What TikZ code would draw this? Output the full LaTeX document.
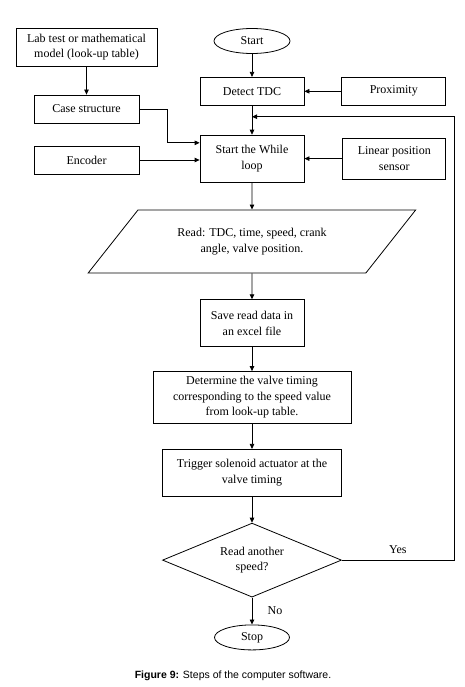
\documentclass[tikz,border=0pt]{standalone}
\usepackage{fontspec}
\setmainfont{Liberation Serif}
\newfontfamily\capfont{Liberation Sans}
\usetikzlibrary{arrows.meta, positioning, calc, shapes.geometric}

\begin{document}
\begin{tikzpicture}[
  x=1pt, y=-1pt,
  node distance=25pt,
  box/.style={draw, minimum width=104pt, minimum height=28pt, inner sep=2pt, align=center, font=\fontsize{12}{15.5}\selectfont},
  term/.style={draw, ellipse, minimum width=76pt, minimum height=25pt, inner sep=1pt, font=\fontsize{12}{15.5}\selectfont},
  io/.style={draw, trapezium, trapezium left angle=39, trapezium right angle=141, trapezium stretches=true, minimum width=328pt, minimum height=63pt, inner sep=0pt, align=center, font=\fontsize{12}{15.5}\selectfont},
  cond/.style={draw, diamond, aspect=2.4, minimum width=179pt, minimum height=74pt, inner sep=0pt, align=center, font=\fontsize{12}{15.5}\selectfont},
  arr/.style={-{Triangle[length=5pt, width=4.5pt]}, line width=0.8pt},
  every path/.style={line width=0.8pt}
]
\useasboundingbox (0,0) rectangle (464,687);
% main column
\node[term] (start) at (252,41) {Start};
\node[box, below=23pt of start] (tdc) {Detect TDC};
\node[box, minimum height=47pt, below=29pt of tdc] (loop) {Start the While\\loop};
\node[io, below=27pt of loop] (read) {Read: TDC, time, speed, crank\\angle, valve position.};
\node[box, minimum height=47pt, below=26pt of read] (save) {Save read data in\\an excel file};
\node[box, minimum width=198pt, minimum height=52pt, below=24pt of save] (timing) {Determine the valve timing\\corresponding to the speed value\\from look-up table.};
\node[box, minimum width=179pt, minimum height=47pt, below=25pt of timing] (trig) {Trigger solenoid actuator at the\\valve timing};
\node[cond, below=26pt of trig] (again) {Read another\\speed?};
\node[term, minimum width=75pt, below=27pt of again] (stop) {Stop};
% inputs
\node[box, minimum width=141pt, minimum height=38pt] (lab) at (86.5,47) {Lab test or mathematical\\model (look-up table)};
\node[box, minimum width=105pt] (case) at (86.5,109) {Case structure};
\node[box, minimum width=105pt] (enc) at (86.5,160) {Encoder};
\node[box, right=37pt of tdc] (prox) {Proximity};
\node[box, minimum width=103pt, minimum height=41pt, right=38pt of loop] (lin) {Linear position\\sensor};
% connectors
\draw[arr] (start) -- (tdc);
\draw[arr] (prox) -- (tdc);
\draw[arr] (lab) -- (case);
\draw[arr] (tdc) -- (loop);
\draw[arr] (case.east) -- ++(28pt,0) |- ($(loop.north west)!0.17!(loop.south west)$);
\draw[arr] (enc.east) -- (enc.east -| loop.west);
\draw[arr] (lin.west) -- (lin.west -| loop.east);
\draw[arr] (loop) -- (read);
\draw[arr] (read) -- (save);
\draw[arr] (save) -- (timing);
\draw[arr] (timing) -- (trig);
\draw[arr] (trig) -- (again);
\draw[arr] (again) -- node[right=12pt, font=\fontsize{12}{15.5}\selectfont] {No} (stop);
\draw[arr] (again.east) -- node[above=3pt, font=\fontsize{12}{15.5}\selectfont] {Yes} ++(112pt,0) |- ($(tdc.south)!0.38!(loop.north)$);
% caption
\node[font=\capfont\fontsize{10.5}{12}\selectfont] (cap) at (233,676) {\textbf{Figure 9:} Steps of the computer software.};
\end{tikzpicture}
\end{document}
